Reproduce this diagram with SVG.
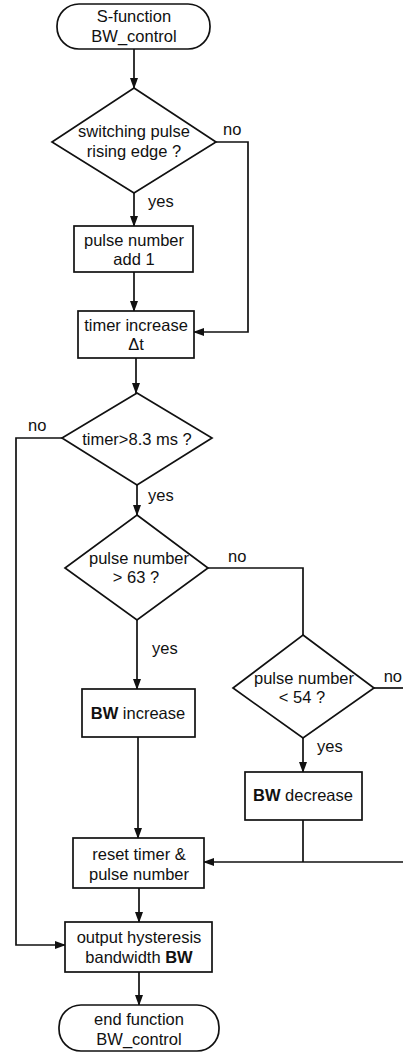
<svg xmlns="http://www.w3.org/2000/svg" width="403" height="1053" viewBox="0 0 403 1053">
<style>
.s{fill:#fff;stroke:#111;stroke-width:1.7}
.c{fill:none;stroke:#111;stroke-width:1.7}
text{font-family:"Liberation Sans",Arial,sans-serif;font-size:16.5px;fill:#111}
.m{text-anchor:middle}
.b{font-weight:bold}
</style>
<defs>
<marker id="a" markerUnits="userSpaceOnUse" markerWidth="11" markerHeight="8" refX="10" refY="4" orient="auto">
<path d="M0,0 L11,4 L0,8 z" fill="#111"/>
</marker>
</defs>
<rect width="403" height="1053" fill="#fff"/>
<g id="connectors">
<line class="c" x1="134" y1="49" x2="134" y2="88" marker-end="url(#a)"/>
<line class="c" x1="134" y1="193" x2="134" y2="226" marker-end="url(#a)"/>
<line class="c" x1="134" y1="272" x2="134" y2="311" marker-end="url(#a)"/>
<polyline class="c" points="216,142 248,142 248,332 194,332" marker-end="url(#a)"/>
<line class="c" x1="136" y1="358" x2="136" y2="393" marker-end="url(#a)"/>
<polyline class="c" points="62,438 16,438 16,945 65,945" marker-end="url(#a)"/>
<line class="c" x1="137" y1="485" x2="137" y2="515" marker-end="url(#a)"/>
<polyline class="c" points="208,568 303,568 303,635"/>
<line class="c" x1="137" y1="620" x2="137" y2="689" marker-end="url(#a)"/>
<line class="c" x1="303" y1="738" x2="303" y2="772" marker-end="url(#a)"/>
<line class="c" x1="374" y1="688" x2="403" y2="688"/>
<line class="c" x1="303" y1="820" x2="303" y2="862"/>
<line class="c" x1="403" y1="862" x2="204" y2="862" marker-end="url(#a)"/>
<line class="c" x1="138" y1="737" x2="138" y2="838" marker-end="url(#a)"/>
<line class="c" x1="139" y1="888" x2="139" y2="922" marker-end="url(#a)"/>
<line class="c" x1="139" y1="972" x2="139" y2="1005" marker-end="url(#a)"/>
<text x="223" y="135">no</text>
<text x="148" y="207">yes</text>
<text x="28" y="431">no</text>
<text x="148" y="501">yes</text>
<text x="228" y="562">no</text>
<text x="152" y="654">yes</text>
<text x="402" y="682" text-anchor="end">no</text>
<text x="317" y="752">yes</text>
</g>
<g id="start">
<rect class="s" x="57" y="4" width="153" height="45" rx="22" ry="22"/>
<text class="m" x="134" y="22">S-function</text>
<text class="m" x="134" y="42">BW_control</text>
</g>
<g id="d1">
<polygon class="s" points="134,88 216,142 134,193 52,142"/>
<text class="m" x="134" y="137">switching pulse</text>
<text class="m" x="134" y="157">rising edge ?</text>
</g>
<g id="add1">
<rect class="s" x="74" y="226" width="119" height="46"/>
<text class="m" x="134" y="246">pulse number</text>
<text class="m" x="134" y="265">add 1</text>
</g>
<g id="timer">
<rect class="s" x="78" y="311" width="116" height="47"/>
<text class="m" x="136" y="331">timer increase</text>
<text class="m" x="136" y="350">Δt</text>
</g>
<g id="d2">
<polygon class="s" points="137,393 212,438 137,485 62,438"/>
<text class="m" x="137" y="445">timer&gt;8.3 ms ?</text>
</g>
<g id="d3">
<polygon class="s" points="137,515 208,568 137,620 65,568"/>
<text class="m" x="139" y="564">pulse number</text>
<text class="m" x="136" y="583">&gt; 63 ?</text>
</g>
<g id="bwinc">
<rect class="s" x="82" y="689" width="113" height="48"/>
<text class="m" x="138" y="719"><tspan class="b">BW</tspan> increase</text>
</g>
<g id="d4">
<polygon class="s" points="303,635 374,688 303,738 233,688"/>
<text class="m" x="304" y="684">pulse number</text>
<text class="m" x="302" y="703">&lt; 54 ?</text>
</g>
<g id="bwdec">
<rect class="s" x="245" y="772" width="117" height="48"/>
<text class="m" x="303" y="801"><tspan class="b">BW</tspan> decrease</text>
</g>
<g id="reset">
<rect class="s" x="73" y="838" width="131" height="50"/>
<text class="m" x="139" y="860">reset timer &amp;</text>
<text class="m" x="139" y="880">pulse number</text>
</g>
<g id="output">
<rect class="s" x="65" y="922" width="147" height="50"/>
<text class="m" x="139" y="943">output hysteresis</text>
<text class="m" x="139" y="963">bandwidth <tspan class="b">BW</tspan></text>
</g>
<g id="end">
<rect class="s" x="59" y="1005" width="160" height="46" rx="22" ry="22"/>
<text class="m" x="139" y="1025">end function</text>
<text class="m" x="139" y="1045">BW_control</text>
</g>
</svg>
